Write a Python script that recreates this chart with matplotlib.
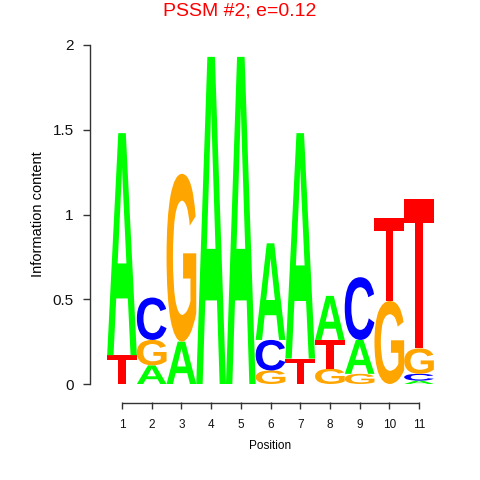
import matplotlib
matplotlib.use("Agg")
import matplotlib.pyplot as plt
from matplotlib.textpath import TextPath
from matplotlib.font_manager import FontProperties
from matplotlib.patches import PathPatch
from matplotlib.transforms import Affine2D, blended_transform_factory

positions = list(range(1, 12))
bases = ["A", "C", "G", "T"]
height_A = [1.31, 0.11, 0.25, 1.93, 1.93, 0.57, 1.33, 0.26, 0.20, 0.00, 0.02]
height_C = [0.00, 0.25, 0.00, 0.00, 0.00, 0.18, 0.00, 0.00, 0.37, 0.00, 0.04]
height_G = [0.00, 0.15, 0.99, 0.00, 0.00, 0.08, 0.00, 0.09, 0.06, 0.49, 0.15]
height_T = [0.17, 0.00, 0.00, 0.00, 0.00, 0.00, 0.15, 0.17, 0.00, 0.49, 0.88]
colors = {"A": "#00FF00", "C": "#0000FF", "G": "#FFA500", "T": "#FF0000"}
yticks = [0, 0.5, 1, 1.5, 2]
ytick_labels = ["0", "0.5", "1", "1.5", "2"]
title = "PSSM #2; e=0.12"

heights = {"A": height_A, "C": height_C, "G": height_G, "T": height_T}

plt.rcParams['font.family'] = ['Liberation Sans', 'DejaVu Sans']
fig = plt.figure(figsize=(4.8, 4.8), dpi=100)
ax = fig.add_axes([107.15 / 480, 0.2, 326.7 / 480, 0.70625])
ax.set_xlim(0.5, 11.5)
ax.set_ylim(0, 2)

fp = FontProperties(family='Liberation Sans', weight='bold')


def draw_letter(ch, x, y, w, h, color):
    if h <= 0:
        return
    tp = TextPath((0, 0), ch, size=1, prop=fp)
    bb = tp.get_extents()
    t = (Affine2D().translate(-bb.x0, -bb.y0)
         .scale(w / bb.width, h / bb.height)
         .translate(x - w / 2, y))
    ax.add_patch(PathPatch(t.transform_path(tp), fc=color, ec='none', lw=0))


for i, pos in enumerate(positions):
    col = sorted(bases, key=lambda b: heights[b][i])
    y = 0.0
    for b in col:
        h = heights[b][i]
        if h > 0:
            draw_letter(b, pos, y, 1.0, h, colors[b])
            y += h

axis_color = "#333333"
for s in ["top", "right"]:
    ax.spines[s].set_visible(False)
ax.spines["left"].set_position(("outward", 12.2))
ax.spines["bottom"].set_position(("outward", 13))
ax.spines["left"].set_bounds(0, 2)
ax.spines["bottom"].set_bounds(1, 11)
ax.spines["left"].set_color(axis_color)
ax.spines["left"].set_linewidth(1.0)
ax.spines["bottom"].set_edgecolor("none")

# explicit x-axis line
tr = blended_transform_factory(ax.transData, fig.transFigure)
yline = (480 - 402.5) / 480
ax.plot([positions[0], positions[-1]], [yline, yline], transform=tr,
        clip_on=False, color=axis_color, lw=1.0, solid_capstyle="butt")

ax.set_yticks(yticks)
ax.set_yticklabels(ytick_labels, fontsize=11)
ax.set_xticks(positions)
ax.set_xticklabels([str(p) for p in positions], fontsize=8.5)
ax.tick_params(axis="both", length=5, width=1.0, color=axis_color, labelcolor="#111111")
ax.tick_params(axis="y", pad=7)
ax.tick_params(axis="x", pad=7)

ax.set_ylabel("Information content", fontsize=10.5, labelpad=5)
ax.set_xlabel("Position", fontsize=8.5, labelpad=7)
fig.text(0.5, 1 - 11 / 480, title, color="#FF0000", fontsize=14, ha="center", va="center")

fig.savefig("out.png", dpi=100)
